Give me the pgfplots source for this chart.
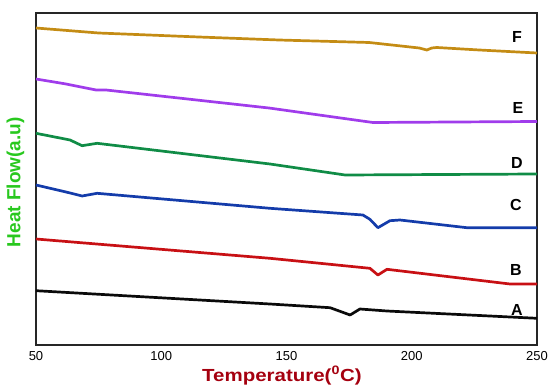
\documentclass[border=0pt]{standalone}
\usepackage{pgfplots}
\pgfplotsset{compat=1.18}
\usepackage{fontspec}
\setmainfont{Liberation Sans}
\definecolor{cF}{RGB}{196,140,20}
\definecolor{cE}{RGB}{160,60,235}
\definecolor{cD}{RGB}{16,140,70}
\definecolor{cC}{RGB}{20,60,170}
\definecolor{cB}{RGB}{200,16,20}
\definecolor{cA}{RGB}{10,10,10}
\definecolor{ylab}{RGB}{40,200,30}
\definecolor{xlab}{RGB}{165,0,15}
\begin{document}
\begin{tikzpicture}
\begin{axis}[
  name=ax,
  scale only axis,
  width=501pt, height=332pt,
  xmin=50, xmax=250, ymin=0, ymax=332,
  xtick={50,100,150,200,250},
  ytick=\empty,
  major tick length=0pt,
  /pgf/number format/assume math mode=true,
  xticklabel style={font=\fontsize{13}{15}\selectfont, inner sep=0.5pt, yshift=-6pt},
  axis line style={line width=1.3pt, black!85},
  xlabel={\textbf{Temperature(\textsuperscript{0}C)}},
  xlabel style={font=\fontsize{17.5}{19}\selectfont, text=xlab, inner sep=0.5pt, xscale=1.17, at={(axis description cs:0.491,-0.092)}, anchor=center},
  ylabel={\textbf{Heat Flow(a.u)}},
  ylabel style={font=\fontsize{19}{21}\selectfont, text=ylab, at={(axis description cs:-0.041,0.49)}, anchor=center},
  every axis plot/.append style={line width=2.7pt, line join=round},
  clip=false,
]
\addplot[cF] coordinates {(50,317) (75,312) (115,308) (147,305) (183,302.5) (203,297) (206,295) (208,297) (210,297.5) (227,295) (250,292)};
\addplot[cE] coordinates {(50,266) (62,261) (74,255) (78,255) (143,237) (184.5,222.5) (250,223.5)};
\addplot[cD] coordinates {(50,211.7) (63.6,205) (68.4,199.3) (74.4,201.7) (143.4,181) (173.4,170) (250,171)};
\addplot[cC] coordinates {(50,160) (62,153) (68.4,149) (74.4,151.7) (143.4,136.7) (180.5,130) (183.3,125.7) (186.5,117.3) (191.3,124.3) (195.3,125) (222,117.3) (250,117.3)};
\addplot[cB] coordinates {(50,106) (143.4,86.7) (183.3,76.7) (186.5,70) (190.1,75.7) (239.2,61) (250,61)};
\addplot[cA] coordinates {(50,54.3) (143.4,41) (167.4,37.3) (175.4,30) (179.3,36) (190.1,34) (250,26.7)};
\node[font=\fontsize{16}{18}\selectfont\bfseries] at (axis cs:242,308) {F};
\node[font=\fontsize{16}{18}\selectfont\bfseries] at (axis cs:242.4,237) {E};
\node[font=\fontsize{16}{18}\selectfont\bfseries] at (axis cs:242,182) {D};
\node[font=\fontsize{16}{18}\selectfont\bfseries] at (axis cs:241.6,140) {C};
\node[font=\fontsize{16}{18}\selectfont\bfseries] at (axis cs:241.6,75) {B};
\node[font=\fontsize{16}{18}\selectfont\bfseries] at (axis cs:242,35) {A};
\end{axis}
\pgfresetboundingbox
\path[use as bounding box] ([xshift=-36pt,yshift=-41pt]ax.south west) rectangle ([xshift=12pt,yshift=13pt]ax.north east);
\end{tikzpicture}
\end{document}
